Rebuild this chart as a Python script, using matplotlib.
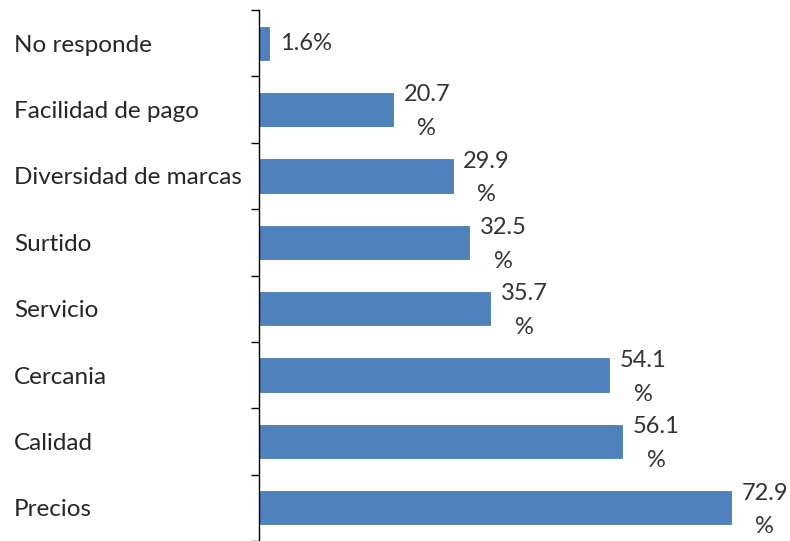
import matplotlib
matplotlib.use("Agg")
import matplotlib.pyplot as plt
from matplotlib.ticker import FixedLocator, NullLocator

plt.rcParams['font.family'] = ['Lato', 'DejaVu Sans']

categories = ["No responde", "Facilidad de pago", "Diversidad de marcas", "Surtido",
              "Servicio", "Cercania", "Calidad", "Precios"]
values = [1.6, 20.7, 29.9, 32.5, 35.7, 54.1, 56.1, 72.9]
labels = ["1.6%", "20.7\n%", "29.9\n%", "32.5\n%", "35.7\n%", "54.1\n%", "56.1\n%", "72.9\n%"]

fig = plt.figure(figsize=(7.9, 5.41), dpi=100)
ax = fig.add_axes([259/790, 0.0, 518/790, 1 - 10/541])

n = len(categories)
ypos = list(range(n))
ax.barh(ypos, values, height=0.5, color="#4F81BD", edgecolor="#4A7AB3", linewidth=0.6)
ax.set_ylim(n - 0.5, -0.5)
ax.set_xlim(0, 80)

ax.yaxis.set_major_locator(FixedLocator(ypos))
ax.set_yticklabels(categories, fontsize=17.5, color="#262626")
ax.tick_params(axis='y', which='major', length=0, pad=0)
ax.yaxis.set_minor_locator(FixedLocator([i - 0.5 for i in range(n + 1)]))
ax.tick_params(axis='y', which='minor', length=5.5, width=1.0, direction='out')
for lab in ax.get_yticklabels():
    lab.set_horizontalalignment('left')
    lab.set_transform(ax.get_yaxis_transform())
    lab.set_position((-(259 - 14)/518, lab.get_position()[1]))

ax.xaxis.set_major_locator(NullLocator())
for s in ["top", "right", "bottom"]:
    ax.spines[s].set_visible(False)
ax.spines["left"].set_linewidth(1.0)

for y, v, t in zip(ypos, values, labels):
    dy = 0 if "\n" not in t else -1.5
    ax.annotate(t, xy=(v, y), xytext=(7.5, dy), textcoords='offset points',
                ha='left', va='center', multialignment='center',
                fontsize=17, color="#333333", linespacing=1.75)

fig.savefig("out.png", dpi=100)
